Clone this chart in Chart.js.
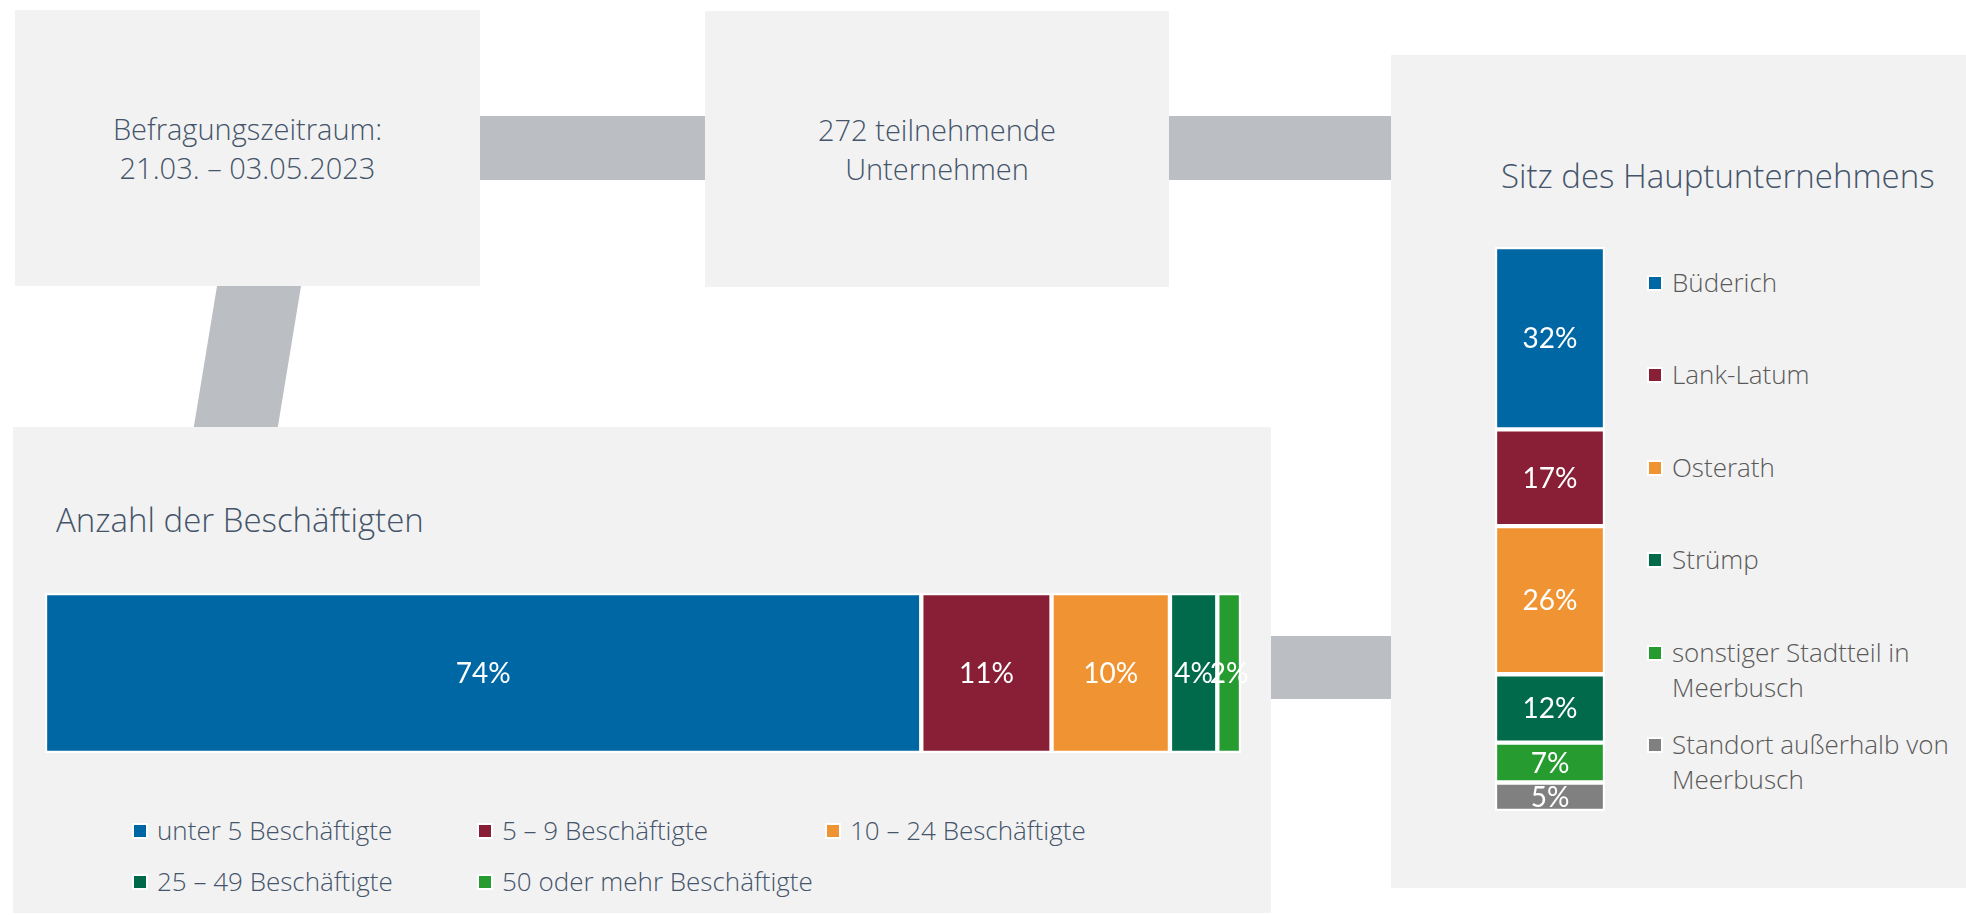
<!DOCTYPE html>
<html lang="de">
<head>
<meta charset="utf-8">
<title>Unternehmensbefragung Meerbusch 2023</title>
<script src="https://cdn.jsdelivr.net/npm/chart.js@4.4.1/dist/chart.umd.min.js"></script>
<style>
  html, body { margin: 0; padding: 0; background: #fff; }
  body {
    width: 1966px; height: 915px; position: relative; overflow: hidden;
    font-family: "Open Sans", Lato, sans-serif; font-weight: 300; color: #44546a;
  }
  .box { position: absolute; background: #f2f2f2; }
  .link { position: absolute; background: #bbbec2; }
  .info {
    display: flex; align-items: center; justify-content: center; text-align: center;
    font-size: 29px; line-height: 39px;
  }
  .title { position: absolute; font-size: 33px; line-height: 33px; white-space: nowrap; }
  .chart { position: absolute; }
  .swatch {
    display: inline-block; width: 12px; height: 12px; flex: none;
    box-shadow: 0 0 0 2px #fff;
  }
  #legendLeft {
    position: absolute; left: 134px; top: 813px;
    display: grid; grid-template-columns: 345px 348px auto; grid-auto-rows: 51px;
    font-size: 26px; line-height: 35px;
  }
  #legendLeft .item, #legendRight .item { display: flex; align-items: flex-start; white-space: nowrap; }
  #legendLeft .swatch, #legendRight .swatch { margin-top: 12px; margin-right: 11px; }
  #legendRight {
    position: absolute; left: 1649px; top: 265px; width: 317px;
    font-size: 26px; line-height: 35px; color: #595959;
  }
  #legendRight .item { height: 92.4px; white-space: normal; }
  #legendRight .item span.txt { width: 300px; }
</style>
</head>
<body>

<svg width="1966" height="915" style="position:absolute;left:0;top:0">
  <polygon points="218,280 302,280 277,432 193,432" fill="#bbbec2"/>
</svg>
<div class="link" style="left:470px;top:116px;width:245px;height:64px"></div>
<div class="link" style="left:1160px;top:116px;width:240px;height:64px"></div>
<div class="link" style="left:1260px;top:636px;width:140px;height:63px"></div>

<div class="box info" style="left:15px;top:10px;width:465px;height:276px">
  <div>Befragungszeitraum:<br>21.03. – 03.05.2023</div>
</div>
<div class="box info" style="left:705px;top:11px;width:464px;height:276px">
  <div>272 teilnehmende<br>Unternehmen</div>
</div>
<div class="box" style="left:1391px;top:55px;width:575px;height:833px"></div>
<div class="box" style="left:13px;top:427px;width:1258px;height:486px"></div>

<div class="title" style="left:56px;top:503px">Anzahl der Beschäftigten</div>
<div class="title" style="left:1501px;top:159px">Sitz des Hauptunternehmens</div>

<div class="chart" style="left:25px;top:588px;width:1236px;height:170px"><canvas id="employees"></canvas></div>
<div class="chart" style="left:1475px;top:242px;width:150px;height:574px"><canvas id="locations"></canvas></div>

<div id="legendLeft"></div>
<div id="legendRight"></div>

<script>
// Anzahl der Beschäftigten (Anteil in %)
const employeeClasses = ['unter 5 Beschäftigte', '5 – 9 Beschäftigte', '10 – 24 Beschäftigte', '25 – 49 Beschäftigte', '50 oder mehr Beschäftigte'];
const employeeShares = [74, 11, 10, 4, 2];
const employeeColors = ['#0067a5', '#891f36', '#f09433', '#006a4b', '#269c30'];

// Sitz des Hauptunternehmens (Anteil in %)
const locations = ['Büderich', 'Lank-Latum', 'Osterath', 'Strümp', 'sonstiger Stadtteil in Meerbusch', 'Standort außerhalb von Meerbusch'];
const locationShares = [32, 17, 26, 12, 7, 5];
const locationColors = ['#0067a5', '#891f36', '#f09433', '#006a4b', '#269c30', '#808080'];

const sum = arr => arr.reduce((a, b) => a + b, 0);

// prints "xx%" in the middle of every bar segment
const valueLabels = {
  id: 'valueLabels',
  afterDatasetsDraw(chart, args, opts) {
    const ctx = chart.ctx;
    const area = chart.chartArea;
    ctx.save();
    if (opts.clip) {
      ctx.beginPath();
      ctx.rect(area.left, area.top, area.right - area.left, area.bottom - area.top);
      ctx.clip();
    }
    ctx.font = opts.font;
    ctx.fillStyle = opts.color;
    ctx.textAlign = 'center';
    ctx.textBaseline = 'middle';
    chart.data.datasets.forEach((ds, i) => {
      chart.getDatasetMeta(i).data.forEach((bar, j) => {
        const p = bar.getCenterPoint();
        ctx.fillText(ds.data[j] + '%', p.x, p.y + 1);
      });
    });
    ctx.restore();
  }
};

function stackedDatasets(labels, values, colors) {
  return labels.map((label, i) => ({
    label: label,
    data: [values[i]],
    backgroundColor: colors[i],
    borderColor: '#ffffff',
    borderWidth: 2.5,
    borderSkipped: false,
    categoryPercentage: 1,
    barPercentage: 1
  }));
}

const commonOptions = {
  responsive: true,
  maintainAspectRatio: false,
  animation: false,
  events: [],
  plugins: {
    legend: { display: false },
    tooltip: { enabled: false },
    valueLabels: { font: '400 28px Lato, "Open Sans", sans-serif', color: '#ffffff' }
  }
};

new Chart(document.getElementById('employees'), {
  type: 'bar',
  data: { labels: [''], datasets: stackedDatasets(employeeClasses, employeeShares, employeeColors) },
  options: {
    ...commonOptions,
    indexAxis: 'y',
    layout: { padding: { left: 20, right: 20, top: 5, bottom: 5 } },
    scales: {
      x: { stacked: true, display: false, min: 0, max: sum(employeeShares) },
      y: { stacked: true, display: false }
    }
  },
  plugins: [valueLabels]
});

new Chart(document.getElementById('locations'), {
  type: 'bar',
  data: { labels: [''], datasets: stackedDatasets(locations, locationShares, locationColors) },
  options: {
    ...commonOptions,
    layout: { padding: { left: 20, right: 20, top: 5, bottom: 5 } },
    plugins: {
      ...commonOptions.plugins,
      valueLabels: { ...commonOptions.plugins.valueLabels, clip: true }
    },
    scales: {
      x: { stacked: true, display: false },
      y: { stacked: true, display: false, reverse: true, min: 0, max: sum(locationShares) }
    }
  },
  plugins: [valueLabels]
});

// HTML legends built from the same arrays
function legendItem(label, color) {
  const item = document.createElement('div');
  item.className = 'item';
  const sw = document.createElement('span');
  sw.className = 'swatch';
  sw.style.background = color;
  const txt = document.createElement('span');
  txt.className = 'txt';
  txt.textContent = label;
  item.append(sw, txt);
  return item;
}
const legendLeft = document.getElementById('legendLeft');
employeeClasses.forEach((c, i) => legendLeft.appendChild(legendItem(c, employeeColors[i])));
const legendRight = document.getElementById('legendRight');
locations.forEach((c, i) => legendRight.appendChild(legendItem(c, locationColors[i])));
</script>
</body>
</html>
